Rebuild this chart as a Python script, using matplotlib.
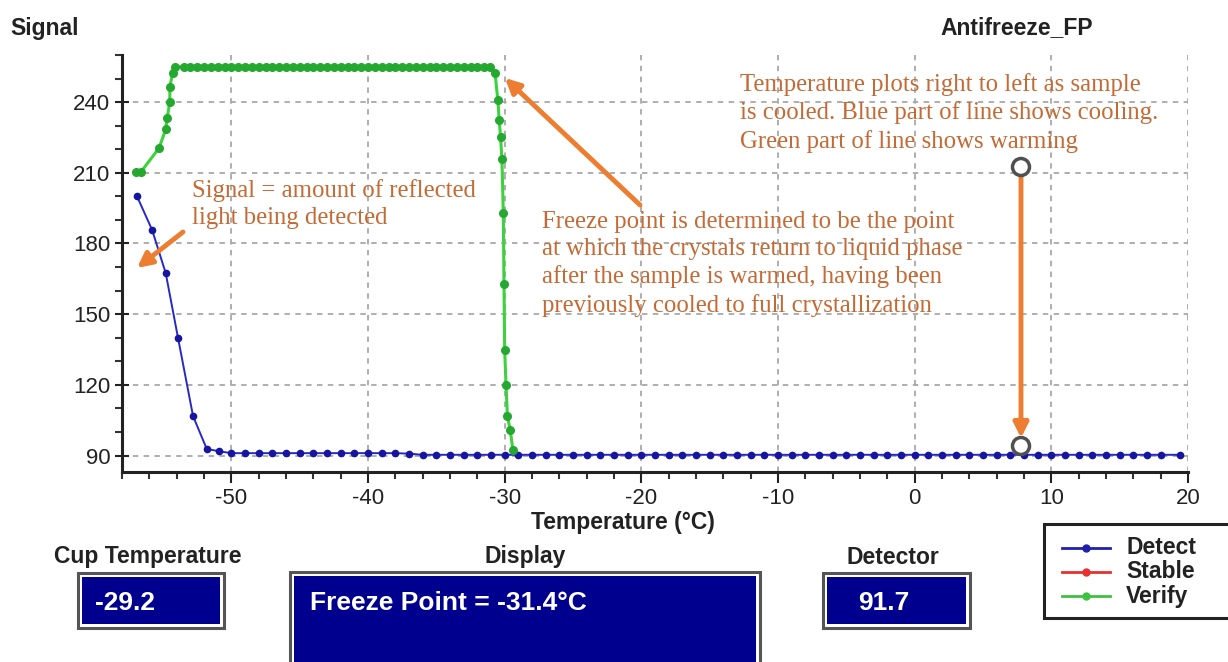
import matplotlib
matplotlib.use("Agg")
import matplotlib.pyplot as plt
from matplotlib.patches import Rectangle, FancyArrowPatch, Ellipse
from matplotlib.lines import Line2D
from matplotlib.ticker import MultipleLocator

plt.rcParams["axes.unicode_minus"] = False

# ---------------- data ----------------
detect_temp = [-56.9, -55.8, -54.8, -53.9, -52.8, -51.8, -50.9,
               -50.0, -49.0, -48.0, -47.0, -46.0, -45.0, -44.0, -43.0, -42.0, -41.0,
               -40.0, -39.0, -38.0, -37.0, -36.0, -35.0, -34.0, -33.0, -32.0, -31.0,
               -30.0, -29.0, -28.0, -27.0, -26.0, -25.0, -24.0, -23.0, -22.0, -21.0,
               -20.0, -19.0, -18.0, -17.0, -16.0, -15.0, -14.0, -13.0, -12.0, -11.0,
               -10.0, -9.0, -8.0, -7.0, -6.0, -5.0, -4.0, -3.0, -2.0, -1.0,
               0.0, 1.0, 2.0, 3.0, 4.0, 5.0, 6.0, 7.0, 8.0, 9.0,
               10.0, 11.0, 12.0, 13.0, 14.0, 15.0, 16.0, 17.0, 18.0, 19.4]
detect_signal = [200.0, 185.8, 167.4, 139.9, 106.7, 92.8, 91.8,
                 91.0, 91.0, 91.0, 91.0, 91.0, 91.0, 91.0, 91.0, 91.0, 91.0,
                 91.0, 91.0, 91.0, 90.8, 90.3, 90.3, 90.3, 90.3, 90.3, 90.3,
                 90.3, 90.3, 90.3, 90.3, 90.3, 90.3, 90.3, 90.3, 90.3, 90.3,
                 90.3, 90.3, 90.3, 90.3, 90.3, 90.3, 90.3, 90.3, 90.3, 90.3,
                 90.3, 90.3, 90.3, 90.3, 90.3, 90.3, 90.3, 90.3, 90.3, 90.3,
                 90.3, 90.3, 90.3, 90.3, 90.3, 90.3, 90.3, 90.3, 90.3, 90.3,
                 90.3, 90.3, 90.3, 90.3, 90.3, 90.3, 90.3, 90.3, 90.3, 90.3]

verify_temp = [-57.0, -56.6, -55.3, -54.8, -54.7, -54.5, -54.5, -54.3, -54.1,
               -53.5, -53.0, -52.5, -52.0, -51.5, -51.0, -50.5, -50.0, -49.5, -49.0,
               -48.5, -48.0, -47.5, -47.0, -46.5, -46.0, -45.5, -45.0, -44.5, -44.0,
               -43.5, -43.0, -42.5, -42.0, -41.5, -41.0, -40.5, -40.0, -39.5, -39.0,
               -38.5, -38.0, -37.5, -37.0, -36.5, -36.0, -35.5, -35.0, -34.5, -34.0,
               -33.5, -33.0, -32.5, -32.0, -31.5, -31.1,
               -30.7, -30.5, -30.4, -30.3, -30.2, -30.1, -30.05, -30.0, -29.9, -29.8,
               -29.6, -29.4]
verify_signal = [210.5, 210.5, 220.4, 228.4, 233.1, 240.1, 246.5, 252.2, 255.0,
                 255.0, 255.0, 255.0, 255.0, 255.0, 255.0, 255.0, 255.0, 255.0, 255.0,
                 255.0, 255.0, 255.0, 255.0, 255.0, 255.0, 255.0, 255.0, 255.0, 255.0,
                 255.0, 255.0, 255.0, 255.0, 255.0, 255.0, 255.0, 255.0, 255.0, 255.0,
                 255.0, 255.0, 255.0, 255.0, 255.0, 255.0, 255.0, 255.0, 255.0, 255.0,
                 255.0, 255.0, 255.0, 255.0, 255.0, 255.0,
                 252.2, 240.8, 232.4, 225.0, 216.0, 192.8, 163.0, 134.9, 120.0, 106.7,
                 101.0, 92.5]

x_ticks = [-50, -40, -30, -20, -10, 0, 10, 20]
y_ticks = [90, 120, 150, 180, 210, 240]

legend_labels = ["Detect", "Stable", "Verify"]
legend_colors = ["#2020b0", "#e83030", "#40c040"]

cup_temperature = "-29.2"
display_text = "Freeze Point = -31.4°C"
detector_value = "91.7"

note_signal = "Signal = amount of reflected\nlight being detected"
note_freeze = ("Freeze point is determined to be the point\n"
               "at which the crystals return to liquid phase\n"
               "after the sample is warmed, having been\n"
               "previously cooled to full crystallization")
note_temp = ("Temperature plots right to left as sample\n"
             "is cooled. Blue part of line shows cooling.\n"
             "Green part of line shows warming")

# ---------------- figure ----------------
W, H = 1228, 662
fig = plt.figure(figsize=(W / 100, H / 100), dpi=100)
fig.patch.set_facecolor("white")

def px(x, y):
    return (x / W, 1 - y / H)

ax = fig.add_axes([122 / W, 1 - 472 / H, (1188 - 122) / W, (472 - 55) / H])
ax.set_xlim(-58, 20)
ax.set_ylim(83, 260)

ax.plot(detect_temp, detect_signal, color="#2828c8", lw=1.4, marker="o",
        ms=4.5, mfc="#1515a0", mec="#1515a0", zorder=3)
ax.plot(verify_temp, verify_signal, color="#3cd23c", lw=2.2, marker="o",
        ms=5.5, mfc="#25a830", mec="#25a830", zorder=4)

ax.set_xticks(x_ticks)
ax.set_yticks(y_ticks)
ax.xaxis.set_minor_locator(MultipleLocator(2))
ax.yaxis.set_minor_locator(MultipleLocator(10))
ax.tick_params(axis="both", which="major", labelsize=16, width=1.5, length=8,
               colors="#222222", labelcolor="#222222")
ax.tick_params(axis="y", which="major", direction="inout", length=10)
ax.tick_params(axis="x", which="major", direction="out", length=8)
ax.tick_params(axis="both", which="minor", direction="out", length=5, width=1.5,
               colors="#333333")
for lab in ax.get_xticklabels() + ax.get_yticklabels():
    lab.set_family("Liberation Sans")

ax.grid(True, which="major", color="#a8a8a8", linestyle=(0, (3, 3)), lw=1.3)
ax.set_axisbelow(True)
for s in ["top", "right"]:
    ax.spines[s].set_visible(False)
for s in ["left", "bottom"]:
    ax.spines[s].set_linewidth(2.2)
    ax.spines[s].set_color("#222222")

# titles / labels
fig.text(*px(10, 28), "Signal", fontsize=16.5, fontweight="bold",
         family="Liberation Sans", color="#222222", va="center", ha="left")
fig.text(*px(940, 28), "Antifreeze_FP", fontsize=16.5, fontweight="bold",
         family="Liberation Sans", color="#222222", va="center", ha="left")
fig.text(*px(623, 523), "Temperature (°C)", fontsize=16.5, fontweight="bold",
         family="Liberation Sans", color="#222222", va="center", ha="center")

# annotation texts
note_color = "#c46a35"
arrow_color = "#ed7d31"
fs_note = 17.8
ls_note = 1.3
fig.text(*px(192, 179), note_signal, fontsize=fs_note, family="Liberation Serif",
         color=note_color, va="top", ha="left", linespacing=ls_note)
fig.text(*px(542, 211), note_freeze, fontsize=fs_note, family="Liberation Serif",
         color=note_color, va="top", ha="left", linespacing=ls_note)
fig.text(*px(740, 73), note_temp, fontsize=fs_note, family="Liberation Serif",
         color=note_color, va="top", ha="left", linespacing=ls_note)

def arrow(x0, y0, x1, y1):
    a = FancyArrowPatch(px(x0, y0), px(x1, y1), transform=fig.transFigure,
                        arrowstyle="-|>", mutation_scale=22, lw=3.5,
                        color=arrow_color, shrinkA=0, shrinkB=0, zorder=6)
    fig.patches.append(a)

arrow(183, 232, 137, 268)
arrow(640, 205, 505, 78)
arrow(1021, 175, 1021, 438)
for cy in (167, 446):
    c = Ellipse(px(1021, cy), 17 / W, 17 / H, transform=fig.transFigure,
                facecolor="white", edgecolor="#505050", lw=2.5, zorder=7)
    fig.patches.append(c)

# bottom panel boxes
navy = "#00008f"

def box(x0, y0, x1, y1):
    outer = Rectangle(px(x0, y1), (x1 - x0) / W, (y1 - y0) / H,
                      transform=fig.transFigure, facecolor="white",
                      edgecolor="#555555", lw=2.2, zorder=2)
    fig.patches.append(outer)
    inner = Rectangle(px(x0 + 4, y1 - 4), (x1 - x0 - 8) / W, (y1 - y0 - 8) / H,
                      transform=fig.transFigure, facecolor=navy,
                      edgecolor="none", zorder=3)
    fig.patches.append(inner)

box(78, 573, 224, 628)
box(290, 572, 760, 672)
box(823, 573, 970, 628)

for cx, lab in [(148, "Cup Temperature"), (525, "Display"), (893, "Detector")]:
    fig.text(*px(cx, 557), lab, fontsize=16.5, fontweight="bold",
             family="Liberation Sans", color="#222222", va="center", ha="center")

fig.text(*px(95, 603), cup_temperature, fontsize=19, fontweight="bold",
         family="Liberation Sans", color="white", va="center", ha="left", zorder=5)
fig.text(*px(310, 603), display_text, fontsize=19, fontweight="bold",
         family="Liberation Sans", color="white", va="center", ha="left", zorder=5)
fig.text(*px(858, 603), detector_value, fontsize=19, fontweight="bold",
         family="Liberation Sans", color="white", va="center", ha="left", zorder=5)

# legend (drawn manually)
leg = Rectangle(px(1044, 618), (1240 - 1044) / W, (618 - 524) / H,
                transform=fig.transFigure, facecolor="white",
                edgecolor="#222222", lw=2.2, zorder=2)
fig.patches.append(leg)
for i, (lab, col) in enumerate(zip(legend_labels, legend_colors)):
    yy = 548 + i * 24
    fig.lines.append(Line2D([1062 / W, 1110 / W], [1 - yy / H, 1 - yy / H],
                            transform=fig.transFigure, color=col, lw=2.0,
                            zorder=4))
    fig.lines.append(Line2D([1086 / W], [1 - yy / H], transform=fig.transFigure,
                            color=col, marker="o", ms=5, zorder=5))
    fig.text(*px(1126, yy), lab, fontsize=16.5, fontweight="bold",
             family="Liberation Sans", color="#222222", va="center", ha="left",
             zorder=5)

fig.savefig("out.png", dpi=100)
